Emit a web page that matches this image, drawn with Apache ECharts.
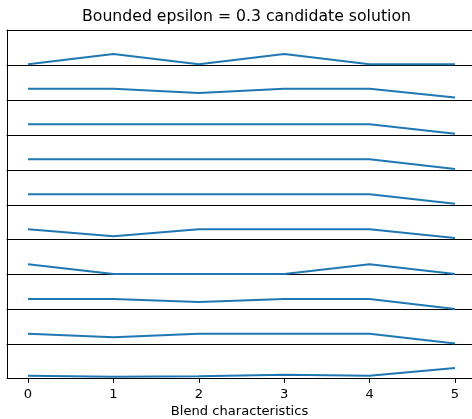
<!DOCTYPE html>
<html>
<head>
<meta charset="utf-8">
<script src="https://cdn.jsdelivr.net/npm/echarts@6/dist/echarts.min.js"></script>
<style>html,body{margin:0;padding:0;background:#fff;}#c{width:472px;height:419px;}</style>
</head>
<body>
<div id="c"></div>
<script>
var categories = [0, 1, 2, 3, 4, 5];
var tickLabels = [0, 1, 2, 3, 4, 5];
var s1 = [0.02, 0.31, 0.02, 0.31, 0.02, 0.02];
var s2 = [0.32, 0.32, 0.20, 0.32, 0.32, 0.07];
var s3 = [0.30, 0.30, 0.30, 0.30, 0.30, 0.03];
var s4 = [0.30, 0.30, 0.30, 0.30, 0.30, 0.02];
var s5 = [0.30, 0.30, 0.30, 0.30, 0.30, 0.03];
var s6 = [0.30, 0.10, 0.30, 0.30, 0.30, 0.05];
var s7 = [0.30, 0.02, 0.02, 0.02, 0.30, 0.02];
var s8 = [0.30, 0.30, 0.22, 0.30, 0.30, 0.02];
var s9 = [0.31, 0.21, 0.31, 0.31, 0.31, 0.03];
var s10 = [0.07, 0.04, 0.05, 0.10, 0.07, 0.30];
var panels = [s1, s2, s3, s4, s5, s6, s7, s8, s9, s10];

var chart = echarts.init(document.getElementById('c'), null, {renderer: 'canvas'});
var top0 = 30, h = 34.95, n = panels.length;
var gridLeft = 7, gridWidth = 465;
var xMin = -0.246, xMax = 5.199;
var grids = [], xAxes = [], yAxes = [], series = [];
var spine = {show: true, onZero: false, lineStyle: {color: '#000', width: 1}};
panels.forEach(function (vals, i) {
  grids.push({left: gridLeft, top: top0 + i * h, width: gridWidth, height: h, show: false, containLabel: false});
  var last = i === n - 1;
  xAxes.push({
    type: 'value', gridIndex: i, min: xMin, max: xMax, position: 'bottom',
    axisLine: spine, splitLine: {show: false},
    axisTick: {show: last, length: 4.8, inside: false, customValues: tickLabels,
      lineStyle: {color: '#000', width: 1}},
    axisLabel: {show: last, customValues: tickLabels, margin: 10.5, fontSize: 13.1,
      fontFamily: 'DejaVu Sans', color: '#000'},
    name: last ? 'Blend characteristics' : '', nameLocation: 'middle', nameGap: 27,
    nameTextStyle: {fontSize: 13.1, fontFamily: 'DejaVu Sans', color: '#000'}
  });
  yAxes.push({type: 'value', gridIndex: i, min: 0, max: 1, axisLine: spine,
    axisTick: {show: false}, axisLabel: {show: false}, splitLine: {show: false}});
  series.push({
    type: 'line', xAxisIndex: i, yAxisIndex: i,
    data: categories.map(function (c, j) { return [c, vals[j]]; }),
    symbol: 'none', lineStyle: {color: '#1f77b4', width: 2}, animation: false
  });
});
// top spine of the first panel
xAxes.push({type: 'value', gridIndex: 0, min: xMin, max: xMax, position: 'top',
  axisLine: spine, axisTick: {show: false}, axisLabel: {show: false}, splitLine: {show: false}});
chart.setOption({
  animation: false,
  title: {text: 'Bounded epsilon = 0.3 candidate solution', left: 241.5, textAlign: 'center', top: 4,
    textStyle: {fontSize: 15.7, fontWeight: 'normal', fontFamily: 'DejaVu Sans', color: '#000'}},
  grid: grids, xAxis: xAxes, yAxis: yAxes, series: series
});
</script>
</body>
</html>
